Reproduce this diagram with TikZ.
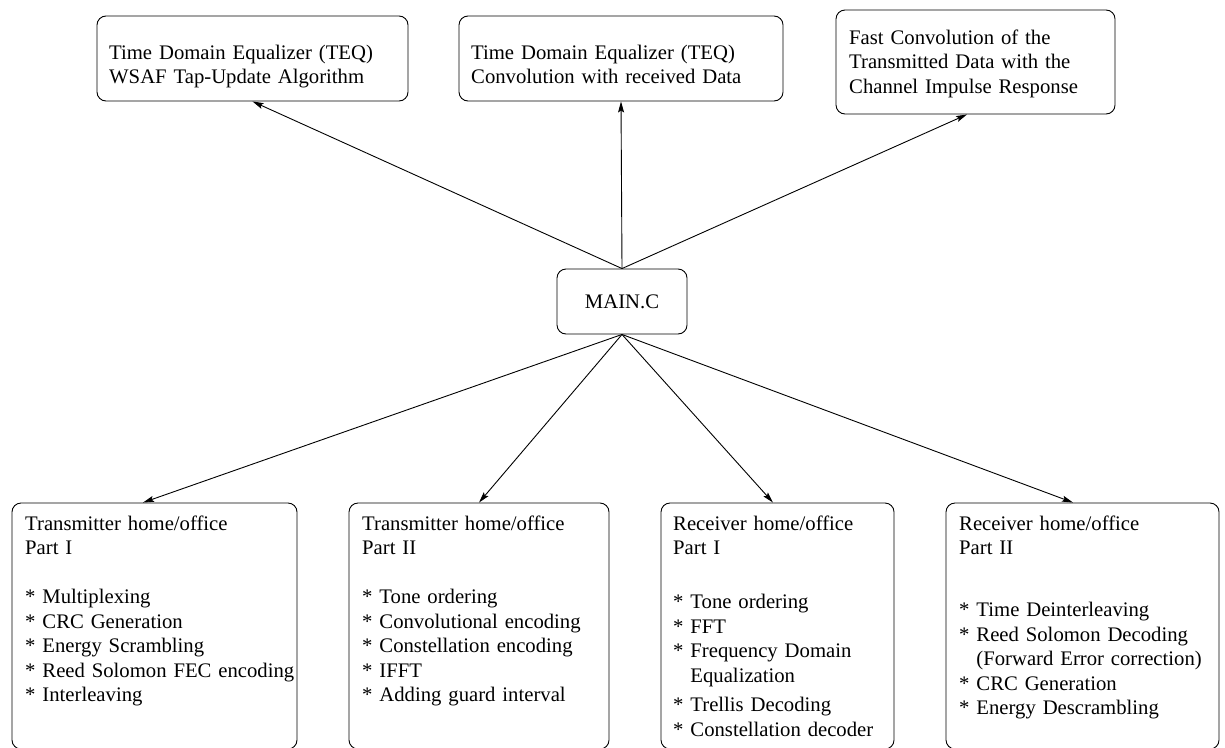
\documentclass[tikz,border=0pt]{standalone}
\usepackage{fontspec}
\setmainfont{Liberation Serif}
\usetikzlibrary{arrows.meta}
% list entry marker; braced so that \\ does not swallow it as its star form
\newcommand{\entry}{{*}~}
\newcommand{\entryindent}{\hphantom{{*}~}}
\begin{document}
\begin{tikzpicture}[x=1pt,y=-1pt,
  box/.style={draw, rounded corners=9pt, line width=0.9pt, inner sep=0pt},
  boxtext/.style={inner sep=0pt, anchor=base west, align=left,
    font=\fontsize{20.7}{24.5}\selectfont, text width=#1},
  boxtext/.default=320pt,
  link/.style={line width=0.9pt, -{Stealth[length=11pt,width=6pt,inset=2pt]}}
]
\clip (0,0) rectangle (1225,747);

% upper row
\node[box, minimum width=311pt, minimum height=85pt] (teqa) at (252.5,58.5) {};
\node[boxtext] (teqatext) at (109,59)
  {Time Domain Equalizer (TEQ)\\ WSAF Tap-Update Algorithm};

\node[box, minimum width=324pt, minimum height=85pt] (teqb) at (621,58.5) {};
\node[boxtext] (teqbtext) at (471,59)
  {Time Domain Equalizer (TEQ)\\ Convolution with received Data};

\node[box, minimum width=279pt, minimum height=104pt] (fast) at (975.5,62) {};
\node[boxtext] (fasttext) at (849,44)
  {Fast Convolution of the\\ Transmitted Data with the\\ Channel Impulse Response};

% central module
\node[box, minimum width=130pt, minimum height=65pt,
  font=\fontsize{20.7}{24.5}\selectfont] (main) at (622,301.5) {MAIN.C};

% lower row
\node[box, minimum width=285pt, minimum height=246pt] (tx1) at (154.5,626) {};
\node[boxtext] (tx1text) at (25,530)
  {Transmitter home/office\\ Part I\\[24.5pt]
   \entry Multiplexing\\ \entry CRC Generation\\ \entry Energy Scrambling\\
   \entry Reed Solomon FEC encoding\\ \entry Interleaving};

\node[box, minimum width=260pt, minimum height=246pt] (tx2) at (479,626) {};
\node[boxtext] (tx2text) at (362,530)
  {Transmitter home/office\\ Part II\\[24.5pt]
   \entry Tone ordering\\ \entry Convolutional encoding\\ \entry Constellation encoding\\
   \entry IFFT\\ \entry Adding guard interval};

\node[box, minimum width=233pt, minimum height=246pt] (rx1) at (777.5,626) {};
\node[boxtext] (rx1text) at (673,530)
  {Receiver home/office\\ Part I\\[29.5pt]
   \entry Tone ordering\\ \entry FFT\\ \entry Frequency Domain\\
   \entryindent Equalization\\[5pt]
   \entry Trellis Decoding\\ \entry Constellation decoder};

\node[box, minimum width=273pt, minimum height=246pt] (rx2) at (1082.5,626) {};
\node[boxtext] (rx2text) at (959,530)
  {Receiver home/office\\ Part II\\[37.5pt]
   \entry Time Deinterleaving\\ \entry Reed Solomon Decoding\\
   \entryindent (Forward Error correction)\\ \entry CRC Generation\\
   \entry Energy Descrambling};

% connections
\draw[link] (main.north) -- (teqa.south);
\draw[link] (main.north) -- (teqb.south);
\draw[link] (main.north) -- ([xshift=-8.5pt]fast.south);
\draw[link] (main.south) -- ([xshift=-11.5pt]tx1.north);
\draw[link] (main.south) -- (tx2.north);
\draw[link] (main.south) -- ([xshift=-4.5pt]rx1.north);
\draw[link] (main.south) -- ([xshift=-9.5pt]rx2.north);
\end{tikzpicture}
\end{document}
